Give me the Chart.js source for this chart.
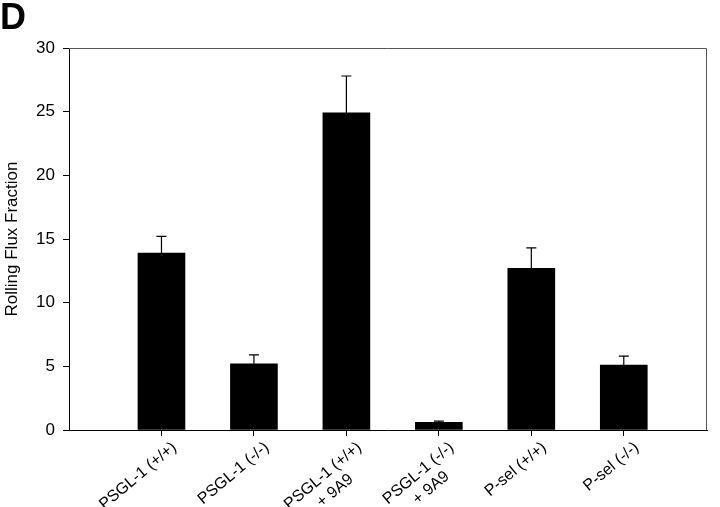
<!DOCTYPE html>
<html>
<head>
<meta charset="utf-8">
<script src="https://cdn.jsdelivr.net/npm/chart.js@4"></script>
<style>
  body { margin: 0; background: #fff; }
  #wrap { position: relative; width: 720px; height: 507px; }
  #letra { position: absolute; left: 0; top: -4px; font: bold 36px "Liberation Sans", Arial, sans-serif; color: #000; }
</style>
</head>
<body>
<div id="wrap">
  <canvas id="grafico" width="720" height="507"></canvas>
  <div id="letra">D</div>
</div>
<script>
// Categorias do eixo X (rótulos com duas linhas quando necessário)
const categorias = [
    ["PSGL-1 (+/+)"],
    ["PSGL-1 (-/-)"],
    ["PSGL-1 (+/+)", "+ 9A9"],
    ["PSGL-1 (-/-)", "+ 9A9"],
    ["P-sel (+/+)"],
    ["P-sel (-/-)"]
];

// Médias e erros (só para cima)
const medias = [13.9, 5.2, 24.9, 0.6, 12.7, 5.1];
const erros = [1.3, 0.7, 2.9, 0.1, 1.6, 0.7];

// Ticks do eixo Y
const ticksY = [0, 5, 10, 15, 20, 25, 30];

const fonte = '"Liberation Sans", Arial, sans-serif';
const tamRotulo = 16;

// Centraliza a segunda linha sob a primeira (o Chart.js alinha à direita quando gira)
const medidor = document.createElement("canvas").getContext("2d");
medidor.font = tamRotulo + "px " + fonte;
function centralizar(linhas) {
    if (linhas.length < 2) return linhas;
    const w1 = medidor.measureText(linhas[0]).width;
    let segunda = linhas[1];
    const esp = medidor.measureText("\u00a0").width;
    const falta = (w1 - medidor.measureText(segunda).width) / 2;
    segunda += "\u00a0".repeat(Math.max(0, Math.round(falta / esp)));
    return [linhas[0], segunda];
}

// Barras de erro desenhadas com as escalas do próprio gráfico
const barrasErro = {
    id: "barrasErro",
    afterDatasetsDraw(chart) {
        const ctx = chart.ctx;
        const y = chart.scales.y;
        const meta = chart.getDatasetMeta(0);
        ctx.save();
        ctx.strokeStyle = "#000";
        ctx.lineWidth = 1.2;
        meta.data.forEach((bar, i) => {
            const topo = y.getPixelForValue(medias[i] + erros[i]);
            ctx.beginPath();
            ctx.moveTo(bar.x, bar.y);
            ctx.lineTo(bar.x, topo);
            ctx.moveTo(bar.x - 5, topo);
            ctx.lineTo(bar.x + 5, topo);
            ctx.stroke();
        });
        ctx.restore();
    }
};

// Moldura cinza em cima e à direita
const moldura = {
    id: "moldura",
    beforeDatasetsDraw(chart) {
        const a = chart.chartArea;
        const ctx = chart.ctx;
        ctx.save();
        ctx.strokeStyle = "#555";
        ctx.lineWidth = 1;
        ctx.beginPath();
        ctx.moveTo(a.left, a.top + 0.5);
        ctx.lineTo(a.right - 0.5, a.top + 0.5);
        ctx.lineTo(a.right - 0.5, a.bottom);
        ctx.stroke();
        ctx.restore();
    }
};

new Chart(document.getElementById("grafico"), {
    type: "bar",
    data: {
        datasets: [{
            data: medias.map((v, i) => ({ x: i + 1, y: v })),
            backgroundColor: "#000",
            borderWidth: 0,
            barThickness: 47
        }]
    },
    options: {
        responsive: false,
        animation: false,
        layout: { padding: { top: 48, right: 13, left: 0, bottom: 0 } },
        plugins: { legend: { display: false }, tooltip: { enabled: false } },
        scales: {
            x: {
                type: "linear",
                min: 0,
                max: 6.9,
                offset: false,
                afterBuildTicks: (s) => { s.ticks = categorias.map((_, i) => ({ value: i + 1 })); },
                afterFit: (s) => { s.height = 77; },
                border: { display: true, color: "#000", width: 1 },
                grid: { offset: false, drawOnChartArea: false, drawTicks: true, tickLength: 6, color: "#000" },
                ticks: {
                    autoSkip: false,
                    minRotation: 40,
                    maxRotation: 40,
                    padding: 2,
                    labelOffset: 13,
                    color: "#000",
                    font: { family: fonte, size: tamRotulo },
                    callback: (v) => centralizar(categorias[v - 1])
                }
            },
            y: {
                min: 0,
                max: 30,
                afterBuildTicks: (s) => { s.ticks = ticksY.map(v => ({ value: v })); },
                afterFit: (s) => { s.width = 69; },
                border: { display: true, color: "#000", width: 1 },
                grid: { drawOnChartArea: false, drawTicks: true, tickLength: 6, color: "#000" },
                title: {
                    display: true,
                    text: "Rolling Flux Fraction",
                    color: "#000",
                    font: { family: fonte, size: 17 },
                    padding: { top: 2, bottom: 4 }
                },
                ticks: {
                    color: "#000",
                    padding: 8,
                    font: { family: fonte, size: 17 }
                }
            }
        }
    },
    plugins: [moldura, barrasErro]
});
</script>
</body>
</html>
